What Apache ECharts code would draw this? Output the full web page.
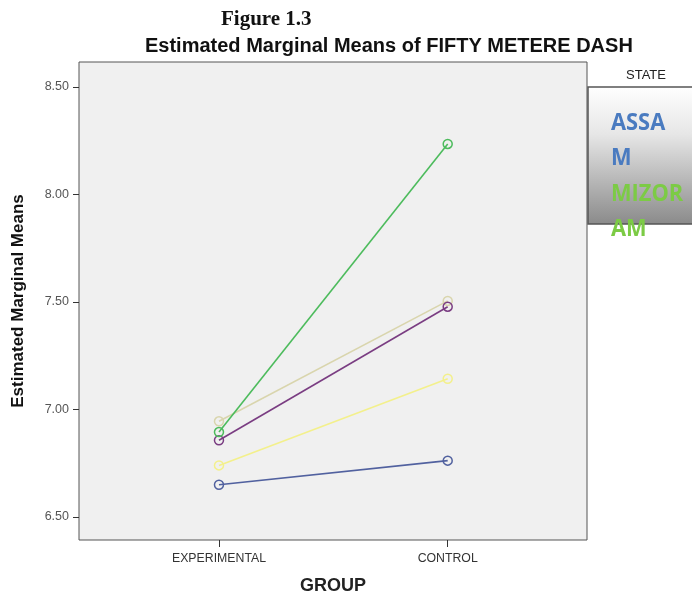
<!DOCTYPE html>
<html><head><meta charset="utf-8">
<script src="https://cdn.jsdelivr.net/npm/echarts@6/dist/echarts.min.js"></script>
<style>html,body{margin:0;padding:0;background:#fff}#c{width:692px;height:592px}</style>
</head><body><div id="c"></div>
<script>
const groups = ['EXPERIMENTAL', 'CONTROL'];
const yTicks = [6.5, 7.0, 7.5, 8.0, 8.5];
const tanVals = [6.945, 7.505];
const greenVals = [6.895, 8.235];
const purpleVals = [6.857, 7.478];
const yellowVals = [6.740, 7.143];
const blueVals = [6.650, 6.762];
const legendLabels = ['ASSA', 'M', 'MIZOR', 'AM'];

const seriesDefs = [
  {name: 'blue', vals: blueVals, color: '#51619f'},
  {name: 'yellow', vals: yellowVals, color: '#f3f08c'},
  {name: 'tan', vals: tanVals, color: '#d9d5ad'},
  {name: 'purple', vals: purpleVals, color: '#7a3d82'},
  {name: 'green', vals: greenVals, color: '#4cbb5c'}
];

const chart = echarts.init(document.getElementById('c'), null, {renderer: 'canvas'});
const legendY = [123, 158.5, 194, 229.5];
const legendColors = ['#4a7bc0', '#4a7bc0', '#7ccb45', '#7ccb45'];
const option = {
  backgroundColor: '#ffffff',
  animation: false,
  grid: {left: 79, right: 105, top: 62, bottom: 52, outerBoundsMode: 'none', containLabel: false, show: true, backgroundColor: '#f0f0f0', borderColor: '#555', borderWidth: 1},
  xAxis: {
    type: 'value', min: -0.612, max: 1.609,
    name: 'GROUP', nameLocation: 'middle', nameGap: 37,
    nameTextStyle: {fontFamily: 'Liberation Sans', fontWeight: 'bold', fontSize: 18, color: '#222'},
    splitLine: {show: false},
    axisLine: {show: false, onZero: false},
    axisTick: {show: true, customValues: [0, 1], length: 7, lineStyle: {color: '#333'}},
    axisLabel: {customValues: [0, 1], formatter: v => groups[Math.round(v)], fontFamily: 'Liberation Sans', fontSize: 12.3, color: '#333', margin: 13}
  },
  yAxis: {
    type: 'value', min: 6.393, max: 8.616,
    name: 'Estimated Marginal Means', nameLocation: 'middle', nameGap: 52,
    nameTextStyle: {fontFamily: 'Liberation Sans', fontWeight: 'bold', fontSize: 17, color: '#111'},
    splitLine: {show: false},
    axisLine: {show: false, onZero: false},
    axisTick: {show: true, customValues: yTicks, length: 6, lineStyle: {color: '#333'}},
    axisLabel: {customValues: yTicks, formatter: v => v.toFixed(2), fontFamily: 'Liberation Sans', fontSize: 12.5, color: '#555', margin: 10}
  },
  series: seriesDefs.map(s => ({
    type: 'line', name: s.name,
    data: s.vals.map((v, i) => [i, v]),
    symbol: 'circle', symbolSize: 9, showSymbol: true,
    lineStyle: {color: s.color, width: 1.6},
    itemStyle: {color: 'rgba(0,0,0,0)', borderColor: s.color, borderWidth: 1.5}
  })),
  graphic: [
    {type: 'text', x: 221, y: 19.5, style: {text: 'Figure 1.3', font: 'bold 21px "Liberation Serif"', fill: '#111', verticalAlign: 'middle'}},
    {type: 'text', x: 145, y: 46, style: {text: 'Estimated Marginal Means of FIFTY METERE DASH', font: 'bold 20px "Liberation Sans"', fill: '#111', verticalAlign: 'middle'}},
    {type: 'text', x: 646, y: 75, style: {text: 'STATE', font: '13px "Liberation Sans"', fill: '#222', align: 'center', verticalAlign: 'middle'}},
    {type: 'rect', shape: {x: 588, y: 87, width: 110, height: 137},
      style: {fill: new echarts.graphic.LinearGradient(0, 0, 0, 1, [{offset: 0, color: '#ffffff'}, {offset: 0.35, color: '#e6e6e6'}, {offset: 1, color: '#8a8a8a'}]), stroke: '#555', lineWidth: 1.5}}
  ].concat(legendLabels.map((t, i) => ({
    type: 'text', x: 611, y: legendY[i], scaleX: 0.91, z: 100,
    style: {text: t, font: 'bold 24px "Open Sans"', fill: legendColors[i], verticalAlign: 'middle'}
  })))
};
chart.setOption(option);
</script></body></html>
